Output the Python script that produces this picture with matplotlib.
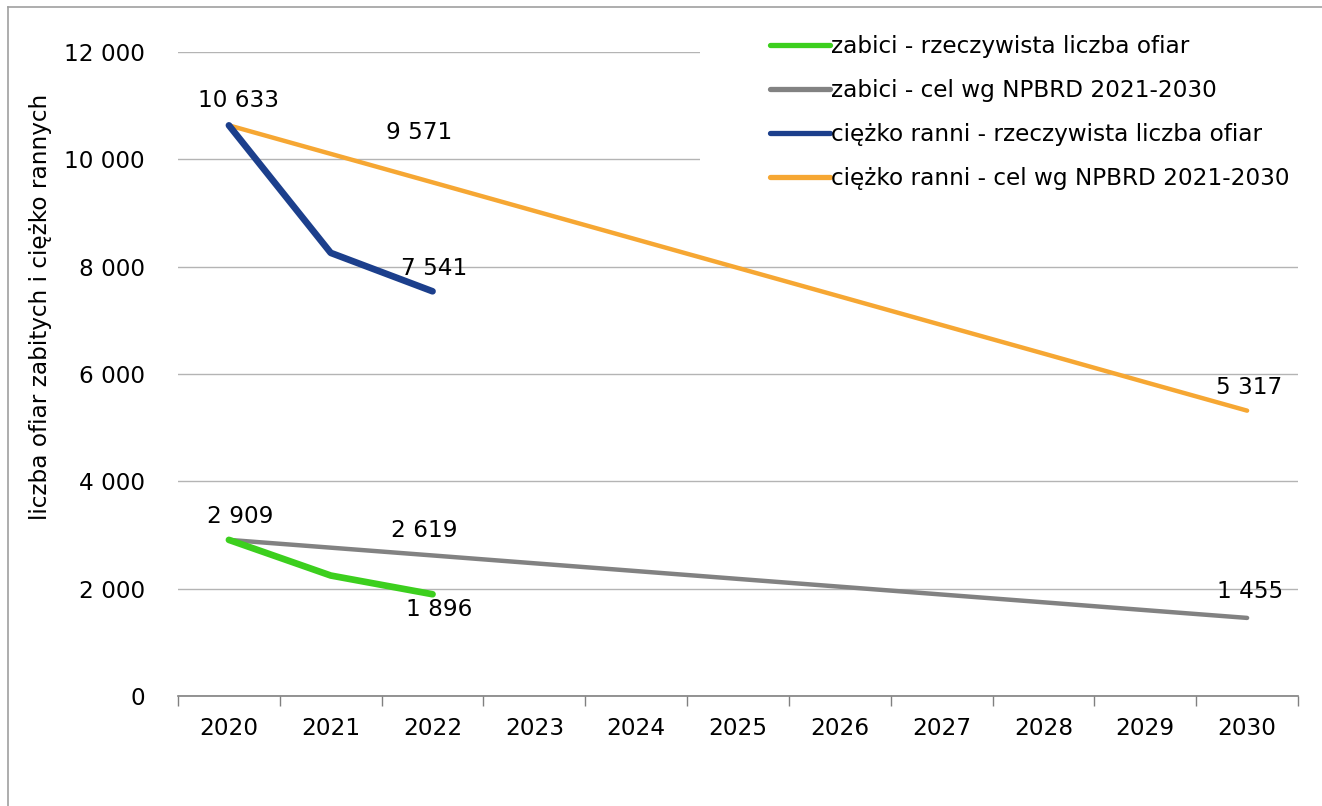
import matplotlib.pyplot as plt
from matplotlib.lines import Line2D
from matplotlib.patches import Rectangle

years = ['2020', '2021', '2022', '2023', '2024', '2025',
         '2026', '2027', '2028', '2029', '2030']

killed_actual = [2909, 2245, 1896]
killed_target = [2909, 2764, 2619, 2473, 2328, 2182,
                 2037, 1891, 1746, 1600, 1455]
injured_actual = [10633, 8257, 7541]
injured_target = [10633, 10102, 9571, 9039, 8508, 7976,
                  7445, 6913, 6382, 5848, 5317]

labels = ['zabici - rzeczywista liczba ofiar',
          'zabici - cel wg NPBRD 2021-2030',
          'ciężko ranni - rzeczywista liczba ofiar',
          'ciężko ranni - cel wg NPBRD 2021-2030']

c_green = '#3ccf1e'
c_gray = '#828282'
c_blue = '#1c3f8c'
c_orange = '#f6a733'

plt.rcParams['font.family'] = ['DejaVu Sans']
fs = 16.7

fig = plt.figure(figsize=(13.22, 8.06), dpi=100)
ax = fig.add_axes([178/1322, 1-696/806, 1120/1322, 644/806])

x = list(range(len(years)))

ax.plot(x, killed_target, color=c_gray, lw=3.2, solid_capstyle='round', zorder=3)
ax.plot(x, injured_target, color=c_orange, lw=3.2, solid_capstyle='round', zorder=3)
ax.plot(x[:3], killed_actual, color=c_green, lw=4.8, solid_capstyle='round',
        solid_joinstyle='round', zorder=4)
ax.plot(x[:3], injured_actual, color=c_blue, lw=4.8, solid_capstyle='round',
        solid_joinstyle='round', zorder=4)


def fmt(v):
    return f'{v:,}'.replace(',', ' ')


# data labels: (x index, value, dx px, dy px)
notes = [
    (0, injured_target[0], 10, 25),
    (2, injured_target[2], -13, 50),
    (2, injured_actual[2], 2, 23),
    (10, injured_target[10], 2, 23),
    (0, killed_target[0], 11, 23),
    (2, killed_target[2], -8, 25),
    (2, killed_actual[2], 7, -15),
    (10, killed_target[10], 3, 26),
]
for i, v, dx, dy in notes:
    ax.annotate(fmt(v), (x[i], v), xytext=(dx, dy), textcoords='offset pixels',
                ha='center', va='center', fontsize=fs, zorder=6)

ax.set_xlim(-0.5, 10.5)
ax.set_ylim(0, 12000)
ax.set_yticks(range(0, 12001, 2000))
ax.set_yticklabels([fmt(v) for v in range(0, 12001, 2000)], fontsize=fs)
ax.set_xticks(x)
ax.set_xticklabels(years, fontsize=fs)
ax.set_xticks([i - 0.5 for i in range(len(years) + 1)], minor=True)
ax.tick_params(axis='x', which='major', length=0, pad=15)
ax.tick_params(axis='x', which='minor', length=7, width=1, color='#808080')
ax.tick_params(axis='y', length=0, pad=24)

ax.grid(axis='y', color='#b4b4b4', lw=1)
ax.set_axisbelow(True)
for s in ['top', 'right', 'left']:
    ax.spines[s].set_visible(False)
ax.spines['bottom'].set_color('#808080')
ax.spines['bottom'].set_linewidth(1.2)

ax.set_ylabel('liczba ofiar zabitych i ciężko rannych', fontsize=fs)
ax.yaxis.set_label_coords(-126/1120, 0.604)

# white legend area covering gridlines
fig.patches.append(Rectangle((700/1322, 1-200/806), 600/1322, 175/806,
                             transform=fig.transFigure, facecolor='white',
                             edgecolor='none', zorder=2))

handles = [Line2D([], [], color=c, lw=3.8, solid_capstyle='round')
           for c in [c_green, c_gray, c_blue, c_orange]]
fig.legend(handles, labels, loc='upper left',
           bbox_to_anchor=(770/1322, 1-35/806), frameon=False,
           fontsize=fs, handlelength=2.6, handletextpad=0.05,
           labelspacing=0.9, borderaxespad=0, borderpad=0)

# outer frame
fig.add_artist(Line2D([8/1322, 8/1322], [0, 1-7/806], color='#a0a0a0', lw=1.2))
fig.add_artist(Line2D([8/1322, 1], [1-7/806, 1-7/806], color='#a0a0a0', lw=1.2))

fig.savefig('out.png', dpi=100)
